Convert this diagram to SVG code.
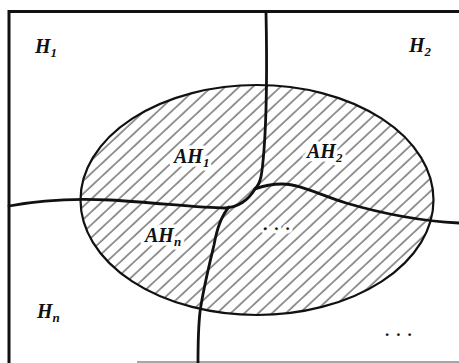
<svg xmlns="http://www.w3.org/2000/svg" width="459" height="363" viewBox="0 0 459 363">
  <style>
    .frame { fill: none; stroke: #111; stroke-width: 3; }
    .curve { fill: none; stroke: #111; stroke-width: 2.8; stroke-linecap: round; stroke-linejoin: round; }
    .ell { fill: url(#hatch); stroke: #111; stroke-width: 2.2; }
    .lbl { font-family: "Liberation Serif", "DejaVu Serif", serif; font-style: italic; font-weight: bold; font-size: 20px; fill: #111; stroke: #fff; stroke-width: 7; paint-order: stroke; stroke-linejoin: round; }
    .sub { font-size: 13px; }
    .dots { font-family: "Liberation Serif", serif; font-weight: bold; font-size: 17px; letter-spacing: 7px; fill: #111; stroke: #fff; stroke-width: 7; paint-order: stroke; }
  </style>
  <defs>
    <pattern id="hatch" patternUnits="userSpaceOnUse" width="9.4" height="20" patternTransform="rotate(47)">
      <line x1="1" y1="0" x2="1" y2="20" stroke="#222" stroke-width="0.95"/>
    </pattern>
  </defs>
  <rect width="459" height="363" fill="#fff"/>

  <g id="frame">
    <path class="frame" d="M 459 11.5 L 9 11.5 L 9 363"/>
    <line x1="137" y1="362" x2="459" y2="362" stroke="#888" stroke-width="1.5"/>
  </g>

  <g id="ellipse-A">
    <ellipse class="ell" cx="257" cy="200" rx="176.5" ry="115"/>
  </g>

  <g id="connectors">
    <path class="curve" d="M 266 12 C 267 60, 267 110, 264 150 C 262 175, 261 183, 255 189"/>
    <path class="curve" d="M 9 206 C 40 200, 70 198, 110 200 C 160 203, 200 208, 225 208 C 240 207, 249 199, 255 189"/>
    <path class="curve" d="M 255 189 C 263 186, 272 184, 282 184 C 300 184, 320 195, 346 203 C 380 213, 420 221, 459 223"/>
    <path class="curve" d="M 229 207 C 222 215, 217 228, 214 245 C 208 270, 203 290, 200 312 C 198 330, 198 350, 198 363"/>
  </g>

  <g id="H1"><text class="lbl" x="35" y="53">H<tspan class="sub" dy="4">1</tspan></text></g>
  <g id="H2"><text class="lbl" x="409" y="52">H<tspan class="sub" dy="4">2</tspan></text></g>
  <g id="Hn"><text class="lbl" x="37" y="318">H<tspan class="sub" dy="4">n</tspan></text></g>
  <g id="AH1"><text class="lbl" x="174" y="163">AH<tspan class="sub" dy="4">1</tspan></text></g>
  <g id="AH2"><text class="lbl" x="307" y="158">AH<tspan class="sub" dy="4">2</tspan></text></g>
  <g id="AHn"><text class="lbl" x="145" y="242">AH<tspan class="sub" dy="4">n</tspan></text></g>
  <g id="dots-in"><text class="dots" x="263" y="229.5">...</text></g>
  <g id="dots-out"><text class="dots" x="385" y="335.5">...</text></g>
</svg>
